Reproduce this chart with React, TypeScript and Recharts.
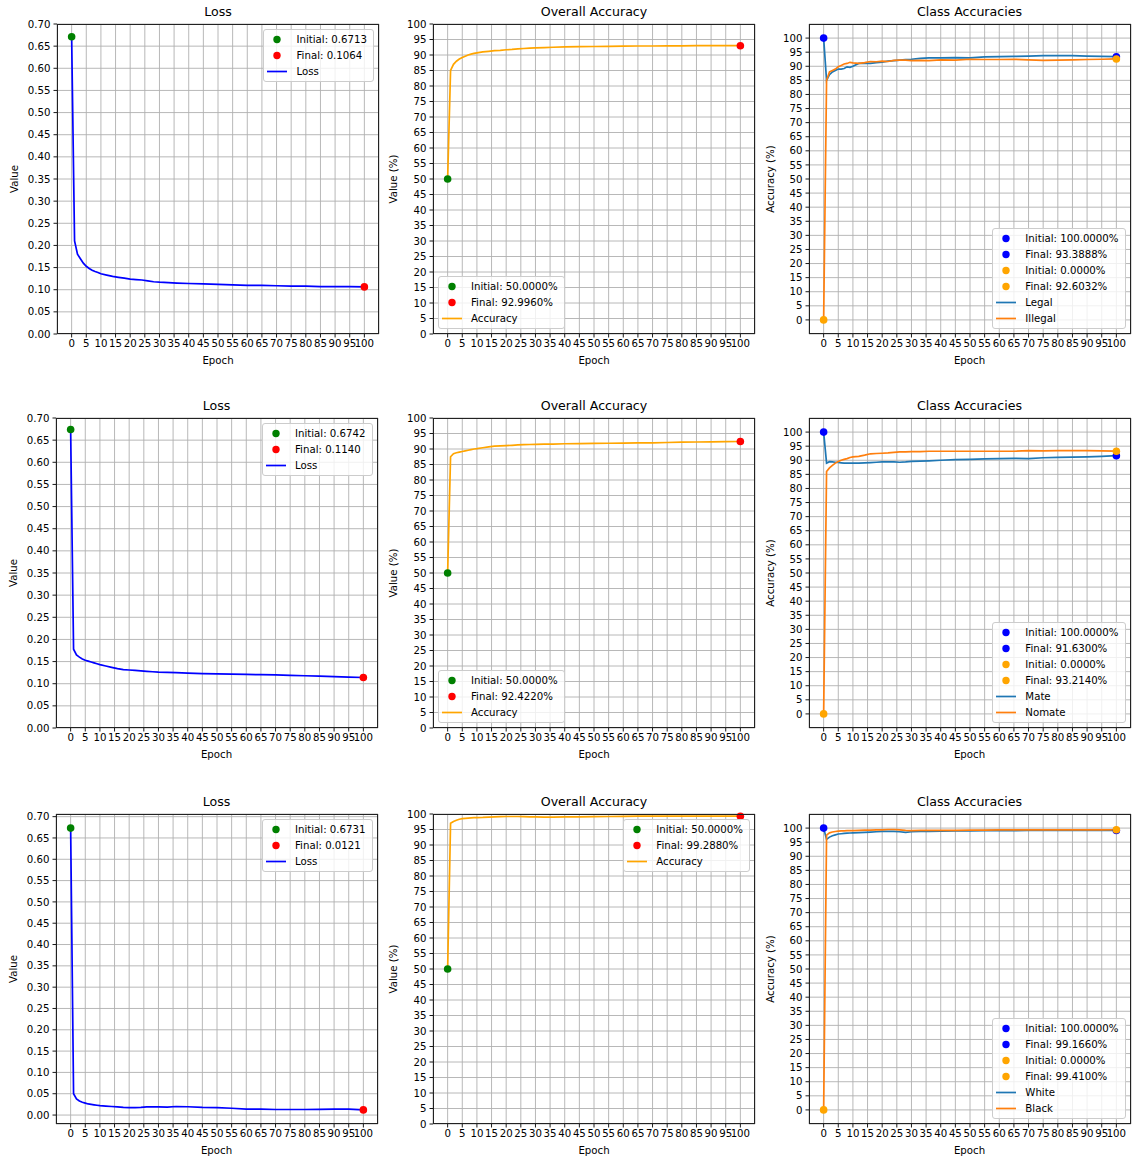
import React from 'react';
import { ComposedChart, Line, Scatter, XAxis, YAxis, CartesianGrid } from 'recharts';

const FONT = "'DejaVu Sans', sans-serif";

// Epoch sample points
const epochs = [0, 1, 2, 3, 4, 5, 6, 7, 8, 9, 10, 12, 14, 16, 18, 20, 22, 24, 26, 28, 30, 33, 36, 40, 45, 50, 55, 60, 65, 70, 75, 80, 85, 90, 95, 100];
const epochTicks = [0, 5, 10, 15, 20, 25, 30, 35, 40, 45, 50, 55, 60, 65, 70, 75, 80, 85, 90, 95, 100];
const lossTicks = [0, 0.05, 0.1, 0.15, 0.2, 0.25, 0.3, 0.35, 0.4, 0.45, 0.5, 0.55, 0.6, 0.65, 0.7];
const pctTicks = [0, 5, 10, 15, 20, 25, 30, 35, 40, 45, 50, 55, 60, 65, 70, 75, 80, 85, 90, 95, 100];

// Row 1 (Legal / Illegal)
const loss1 = [0.6713, 0.21, 0.18, 0.17, 0.16, 0.153, 0.148, 0.144, 0.141, 0.139, 0.136, 0.133, 0.130, 0.128, 0.126, 0.124, 0.123, 0.122, 0.120, 0.118, 0.117, 0.116, 0.115, 0.114, 0.113, 0.112, 0.111, 0.110, 0.110, 0.109, 0.108, 0.108, 0.107, 0.107, 0.107, 0.1064];
const acc1 = [50, 85, 87, 88, 88.7, 89.2, 89.6, 90, 90.3, 90.5, 90.7, 91, 91.2, 91.4, 91.5, 91.7, 91.8, 92, 92.1, 92.2, 92.3, 92.4, 92.5, 92.6, 92.7, 92.75, 92.8, 92.85, 92.9, 92.9, 92.95, 92.95, 93, 93, 93, 92.996];
const legal1 = [100, 85, 87, 88, 88.5, 89, 89, 89.2, 89.8, 89.6, 90, 91, 91, 91, 91.3, 91.5, 91.8, 92, 92.2, 92.4, 92.5, 92.8, 93, 93, 93.1, 93, 93.3, 93.4, 93.5, 93.6, 93.8, 93.8, 93.8, 93.6, 93.5, 93.3888];
const illegal1 = [0, 85, 88, 88.5, 89, 89.8, 90.3, 90.8, 91, 91.4, 91.2, 91, 91.3, 91.7, 91.6, 91.8, 91.7, 92.1, 92.2, 92.2, 92, 92.1, 92, 92.3, 92.2, 92.5, 92.4, 92.4, 92.5, 92.3, 92.1, 92.2, 92.3, 92.4, 92.5, 92.6032];

// Row 2 (Mate / Nomate)
const loss2 = [0.6742, 0.178, 0.165, 0.160, 0.156, 0.153, 0.151, 0.149, 0.147, 0.145, 0.143, 0.140, 0.137, 0.134, 0.132, 0.131, 0.130, 0.129, 0.128, 0.127, 0.126, 0.1255, 0.125, 0.124, 0.123, 0.122, 0.1215, 0.121, 0.1205, 0.120, 0.119, 0.118, 0.117, 0.116, 0.115, 0.1140];
const acc2 = [50, 87.5, 88.5, 88.8, 89, 89.2, 89.4, 89.6, 89.8, 90, 90.1, 90.4, 90.7, 90.9, 91, 91.1, 91.2, 91.3, 91.4, 91.45, 91.5, 91.55, 91.6, 91.7, 91.75, 91.8, 91.85, 91.9, 91.95, 92, 92.1, 92.2, 92.25, 92.3, 92.35, 92.422];
const mate2 = [100, 89, 89.5, 89.4, 89.3, 89.2, 89.1, 89, 89, 89, 89, 89, 89.1, 89.2, 89.3, 89.4, 89.4, 89.4, 89.3, 89.4, 89.6, 89.7, 89.8, 90, 90.2, 90.3, 90.5, 90.6, 90.7, 90.6, 90.9, 91, 91.1, 91.2, 91.4, 91.63];
const nomate2 = [0, 86, 87.3, 88.2, 89, 89.6, 90, 90.3, 90.6, 91, 91.2, 91.4, 91.8, 92.3, 92.4, 92.5, 92.6, 92.8, 93, 93, 93.1, 93.1, 93.2, 93.2, 93.2, 93.2, 93.2, 93.2, 93.2, 93.4, 93.3, 93.4, 93.4, 93.4, 93.3, 93.214];

// Row 3 (White / Black)
const loss3 = [0.6731, 0.05, 0.038, 0.033, 0.030, 0.028, 0.026, 0.025, 0.024, 0.023, 0.022, 0.021, 0.020, 0.019, 0.018, 0.0175, 0.0175, 0.018, 0.019, 0.0195, 0.019, 0.0185, 0.020, 0.0195, 0.018, 0.0175, 0.016, 0.014, 0.014, 0.013, 0.013, 0.013, 0.0135, 0.014, 0.014, 0.0121];
const acc3 = [50, 97, 97.6, 98, 98.3, 98.5, 98.6, 98.7, 98.75, 98.8, 98.85, 98.9, 99, 99.1, 99.15, 99.2, 99.2, 99.2, 99.15, 99.1, 99.1, 99, 99, 99.05, 99.1, 99.15, 99.2, 99.25, 99.3, 99.3, 99.3, 99.3, 99.3, 99.3, 99.3, 99.288];
const white3 = [100, 96, 96.8, 97.3, 97.6, 97.9, 98, 98.1, 98.2, 98.25, 98.3, 98.4, 98.5, 98.6, 98.7, 98.8, 98.8, 98.8, 98.7, 98.5, 98.7, 98.8, 98.8, 98.9, 99, 99, 99.1, 99.2, 99.1, 99.2, 99.2, 99.2, 99.2, 99.2, 99.2, 99.166];
const black3 = [0, 97.5, 98.3, 98.6, 98.8, 98.9, 99, 99, 99.1, 99.1, 99.1, 99.2, 99.3, 99.3, 99.4, 99.4, 99.5, 99.5, 99.4, 99.2, 99.1, 99.2, 99.2, 99.2, 99.2, 99.3, 99.3, 99.4, 99.4, 99.4, 99.4, 99.4, 99.4, 99.4, 99.4, 99.41];

const lossDomainFixed = [0, 0.7];
const lossDomainAuto = [-0.021, 0.7062];
const accDomain = [0, 100];
const classDomain = [-5, 105];
const xDomain = [-5, 105];

const C_GREEN = '#008000';
const C_RED = '#ff0000';
const C_BLUE = '#0000ff';
const C_ORANGE = '#ffa500';
const C0 = '#1f77b4';
const C1 = '#ff7f0e';

type LegendItem = { kind: 'dot' | 'line'; color: string; label: string };
type SeriesDef = { key: string; values: number[]; color: string };
type DotDef = { x: number; y: number; color: string };

type CellCfg = {
  L: number; T: number; W: number; H: number;
  title: string; ylabel: string; ylabelDx: number;
  yDomain: number[]; yTicks: number[]; fmt: (v: number) => string;
  series: SeriesDef[]; dots: DotDef[];
  legend: LegendItem[]; legendPos: 'ur' | 'll' | 'lr';
};

const last = (a: number[]) => a[a.length - 1];
const f4 = (v: number) => v.toFixed(4);
const fmtLoss = (v: number) => v.toFixed(2);
const fmtPct = (v: number) => String(v);

function lossCell(L: number, T: number, vals: number[], yDomain: number[]): CellCfg {
  return {
    L, T, W: 322, H: 310, title: 'Loss', ylabel: 'Value', ylabelDx: -42,
    yDomain, yTicks: lossTicks, fmt: fmtLoss,
    series: [{ key: 'a', values: vals, color: C_BLUE }],
    dots: [{ x: 0, y: vals[0], color: C_GREEN }, { x: 100, y: last(vals), color: C_RED }],
    legend: [
      { kind: 'dot', color: C_GREEN, label: `Initial: ${f4(vals[0])}` },
      { kind: 'dot', color: C_RED, label: `Final: ${f4(last(vals))}` },
      { kind: 'line', color: C_BLUE, label: 'Loss' },
    ],
    legendPos: 'ur',
  };
}

function accCell(L: number, T: number, vals: number[], pos: 'ur' | 'll'): CellCfg {
  return {
    L, T, W: 322, H: 310, title: 'Overall Accuracy', ylabel: 'Value (%)', ylabelDx: -39,
    yDomain: accDomain, yTicks: pctTicks, fmt: fmtPct,
    series: [{ key: 'a', values: vals, color: C_ORANGE }],
    dots: [{ x: 0, y: vals[0], color: C_GREEN }, { x: 100, y: last(vals), color: C_RED }],
    legend: [
      { kind: 'dot', color: C_GREEN, label: `Initial: ${f4(vals[0])}%` },
      { kind: 'dot', color: C_RED, label: `Final: ${f4(last(vals))}%` },
      { kind: 'line', color: C_ORANGE, label: 'Accuracy' },
    ],
    legendPos: pos,
  };
}

function classCell(L: number, T: number, a: number[], b: number[], na: string, nb: string): CellCfg {
  return {
    L, T, W: 322, H: 310, title: 'Class Accuracies', ylabel: 'Accuracy (%)', ylabelDx: -38,
    yDomain: classDomain, yTicks: pctTicks, fmt: fmtPct,
    series: [{ key: 'a', values: a, color: C0 }, { key: 'b', values: b, color: C1 }],
    dots: [
      { x: 0, y: a[0], color: C_BLUE }, { x: 100, y: last(a), color: C_BLUE },
      { x: 0, y: b[0], color: C_ORANGE }, { x: 100, y: last(b), color: C_ORANGE },
    ],
    legend: [
      { kind: 'dot', color: C_BLUE, label: `Initial: ${f4(a[0])}%` },
      { kind: 'dot', color: C_BLUE, label: `Final: ${f4(last(a))}%` },
      { kind: 'dot', color: C_ORANGE, label: `Initial: ${f4(b[0])}%` },
      { kind: 'dot', color: C_ORANGE, label: `Final: ${f4(last(b))}%` },
      { kind: 'line', color: C0, label: na },
      { kind: 'line', color: C1, label: nb },
    ],
    legendPos: 'lr',
  };
}

const cells: CellCfg[] = [
  lossCell(57, 24, loss1, lossDomainFixed),
  accCell(433, 24, acc1, 'll'),
  classCell(808.5, 24, legal1, illegal1, 'Legal', 'Illegal'),
  lossCell(55.5, 418.3, loss2, lossDomainFixed),
  accCell(433, 418.3, acc2, 'll'),
  classCell(808.5, 418.3, mate2, nomate2, 'Mate', 'Nomate'),
  lossCell(55.5, 814.3, loss3, lossDomainAuto),
  accCell(433, 814.3, acc3, 'ur'),
  classCell(808.5, 814.3, white3, black3, 'White', 'Black'),
];

function LegendBox({ cfg }: { cfg: CellCfg }) {
  const { L, T, W, H, legend, legendPos } = cfg;
  const style: React.CSSProperties = {
    position: 'absolute',
    background: 'rgba(255,255,255,0.8)',
    border: '1px solid #cccccc',
    borderRadius: 3,
    padding: '4px 6px 4px 3px',
    fontFamily: FONT,
    fontSize: 10.2,
    color: '#000',
    display: 'flex',
    flexDirection: 'column',
    gap: 5,
    boxSizing: 'border-box',
  };
  if (legendPos === 'ur') { style.right = 1135 - (L + W) + 5; style.top = T + 5; }
  if (legendPos === 'll') { style.left = L + 5; style.bottom = 1160 - (T + H) + 5; }
  if (legendPos === 'lr') { style.right = 1135 - (L + W) + 5; style.bottom = 1160 - (T + H) + 5; }
  return (
    <div style={style}>
      {legend.map((it, i) => (
        <div key={i} style={{ display: 'flex', alignItems: 'center', height: 11, lineHeight: '11px' }}>
          <svg width={20} height={11} style={{ marginRight: 9, flex: 'none' }}>
            {it.kind === 'dot'
              ? <circle cx={10} cy={5.5} r={3.7} fill={it.color} />
              : <line x1={0} x2={20} y1={5.5} y2={5.5} stroke={it.color} strokeWidth={1.7} />}
          </svg>
          <span style={{ whiteSpace: 'nowrap' }}>{it.label}</span>
        </div>
      ))}
    </div>
  );
}

const dotShape = (color: string) => (p: any) => (
  <circle cx={p.cx} cy={p.cy} r={3.8} fill={color} />
);

function Cell({ cfg }: { cfg: CellCfg }) {
  const { L, T, W, H } = cfg;
  const YW = 60;
  const XH = 30;
  const TOP = 12;
  const data = epochs.map((e, i) => {
    const row: any = { epoch: e };
    cfg.series.forEach((s) => { row[s.key] = s.values[i]; });
    return row;
  });
  return (
    <>
      <div style={{ position: 'absolute', left: L - YW, top: T - TOP, fontFamily: FONT }}>
        <ComposedChart width={W + YW + 6} height={H + XH + TOP} data={data} margin={{ top: TOP, right: 6, bottom: 0, left: 0 }}>
          <CartesianGrid stroke="#b0b0b0" strokeWidth={0.9} />
          <XAxis
            dataKey="epoch" type="number" domain={xDomain} ticks={epochTicks} interval={0}
            axisLine={false} tickLine={{ stroke: '#000', strokeWidth: 0.9 }} tickSize={3.5} tickMargin={2}
            tick={{ fontSize: 10.2, fill: '#000', fontFamily: FONT }} height={XH}
          />
          <YAxis
            type="number" domain={cfg.yDomain} ticks={cfg.yTicks} interval={0} width={YW}
            axisLine={false} tickLine={{ stroke: '#000', strokeWidth: 0.9 }} tickSize={3.5} tickMargin={3}
            tickFormatter={cfg.fmt} tick={{ fontSize: 10.2, fill: '#000', fontFamily: FONT }}
          />
          {cfg.dots.map((d, i) => (
            <Scatter key={'d' + i} data={[{ epoch: d.x, v: d.y }]} dataKey="v" fill={d.color}
              shape={dotShape(d.color)} isAnimationActive={false} />
          ))}
          {cfg.series.map((s) => (
            <Line key={s.key} type="linear" dataKey={s.key} stroke={s.color} strokeWidth={1.7}
              dot={false} activeDot={false} isAnimationActive={false} />
          ))}
        </ComposedChart>
      </div>
      <div style={{
        position: 'absolute', left: L, top: T, width: W, height: H,
        border: '1px solid #222', boxSizing: 'border-box', pointerEvents: 'none',
      }} />
      <div style={{
        position: 'absolute', left: L, width: W, top: T - 19, textAlign: 'center',
        fontFamily: FONT, fontSize: 12.6, lineHeight: '14px', color: '#000',
      }}>{cfg.title}</div>
      <div style={{
        position: 'absolute', left: L, width: W, top: T + H + 21, textAlign: 'center',
        fontFamily: FONT, fontSize: 10.2, lineHeight: '12px', color: '#000',
      }}>Epoch</div>
      <div style={{
        position: 'absolute', left: L + cfg.ylabelDx, top: T + H / 2,
        transform: 'translate(-50%, -50%) rotate(-90deg)', whiteSpace: 'nowrap',
        fontFamily: FONT, fontSize: 10.2, lineHeight: '12px', color: '#000',
      }}>{cfg.ylabel}</div>
      <LegendBox cfg={cfg} />
    </>
  );
}

export default function App() {
  return (
    <div style={{ position: 'absolute', left: 0, top: 0, width: 1135, height: 1160, background: '#fff', overflow: 'hidden' }}>
      {cells.map((c, i) => <Cell key={i} cfg={c} />)}
    </div>
  );
}
